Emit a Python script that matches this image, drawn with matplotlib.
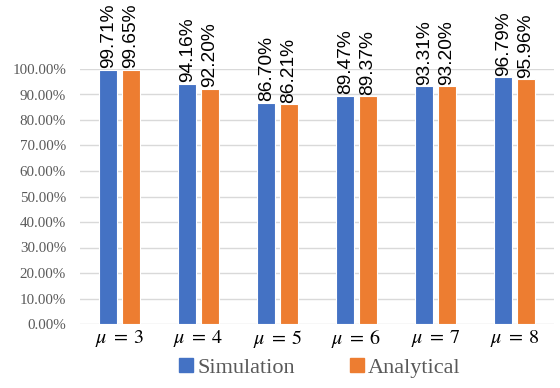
import matplotlib.pyplot as plt
import numpy as np
from matplotlib.patches import Patch

categories = ['$\\mu\\;=\\;3$', '$\\mu\\;=\\;4$', '$\\mu\\;=\\;5$',
              '$\\mu\\;=\\;6$', '$\\mu\\;=\\;7$', '$\\mu\\;=\\;8$']
simulation = [99.71, 94.16, 86.70, 89.47, 93.31, 96.79]
analytical = [99.65, 92.20, 86.21, 89.37, 93.20, 95.96]
yticks = [0, 10, 20, 30, 40, 50, 60, 70, 80, 90, 100]

blue = '#4472C4'
orange = '#ED7D31'
plt.rcParams['mathtext.fontset'] = 'stix'

fig = plt.figure(figsize=(5.6, 3.88), dpi=100)
ax = fig.add_axes([80 / 560, 64 / 388, 474 / 560, 255 / 388])

x = np.arange(len(categories))
w = 0.235
off = 0.143
b1 = ax.bar(x - off, simulation, w, color=blue, edgecolor='white', linewidth=0.8, zorder=3)
b2 = ax.bar(x + off, analytical, w, color=orange, edgecolor='white', linewidth=0.8, zorder=3)

for bars, vals in ((b1, simulation), (b2, analytical)):
    for r, v in zip(bars, vals):
        ax.text(r.get_x() + r.get_width() / 2, v + 0.6, '%.2f%%' % v, rotation=90,
                ha='center', va='bottom', fontsize=13.8, family='Liberation Sans',
                color='black', clip_on=False)

ax.set_xlim(-0.5, len(categories) - 0.5)
ax.set_ylim(0, 100)
ax.set_yticks(yticks)
ax.set_yticklabels(['%.2f%%' % t for t in yticks], family='Liberation Serif',
                   fontsize=10.8, color='#595959')
ax.set_xticks(x)
ax.set_xticklabels(categories, fontsize=14.5, color='black')
ax.tick_params(length=0, pad=3)
ax.tick_params(axis='y', pad=10)
ax.grid(axis='y', color='#d9d9d9', linewidth=1, zorder=0)
for s in ax.spines.values():
    s.set_visible(False)

handles = [Patch(color=blue, label='Simulation'), Patch(color=orange, label='Analytical')]
fig.legend(handles=handles, loc='center', bbox_to_anchor=(320 / 560, 1 - 368 / 388),
           ncol=2, frameon=False, prop={'family': 'Liberation Serif', 'size': 16},
           labelcolor='#595959', handlelength=0.6, handleheight=0.6,
           handletextpad=0.2, columnspacing=2.5)

fig.savefig('out.png', dpi=100)
